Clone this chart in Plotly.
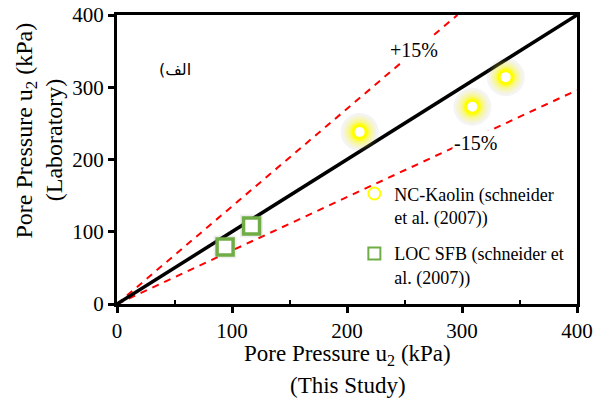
import plotly.graph_objects as go

# Measured pore pressures (kPa): this study (x) vs laboratory (y)
kaolin_x = [211, 309, 338]
kaolin_y = [238, 273, 314]
sfb_x = [94, 117]
sfb_y = [79, 108]

# Reference lines: 1:1 and the +/- bounds
line_x = [0, 400]
line_y = [0, 400]
upper_x = [0, 296]
upper_y = [0, 400]
lower_x = [0, 400]
lower_y = [0, 296]

tick_vals = [0, 100, 200, 300, 400]

SERIF = "Liberation Serif"

fig = go.Figure()

# bound lines
fig.add_trace(go.Scatter(x=upper_x, y=upper_y, mode="lines", showlegend=False,
                         line=dict(color="#ff0000", width=2, dash="7px,6px"), hoverinfo="skip"))
fig.add_trace(go.Scatter(x=lower_x, y=lower_y, mode="lines", showlegend=False,
                         line=dict(color="#ff0000", width=2, dash="7px,6px"), hoverinfo="skip"))
# 1:1 line
fig.add_trace(go.Scatter(x=line_x, y=line_y, mode="lines", showlegend=False,
                         line=dict(color="black", width=3.5), hoverinfo="skip"))

# soft glow around the kaolin points
for size, col in [(38, "rgba(150,150,150,0.10)"), (33, "rgba(255,255,0,0.12)"),
                  (28, "rgba(255,255,0,0.17)"), (23, "rgba(255,255,0,0.27)"),
                  (19, "rgba(255,255,0,0.45)")]:
    fig.add_trace(go.Scatter(x=kaolin_x, y=kaolin_y, mode="markers", showlegend=False,
                             marker=dict(size=size, color=col, line=dict(width=0)),
                             hoverinfo="skip"))

fig.add_trace(go.Scatter(x=kaolin_x, y=kaolin_y, mode="markers", legendgroup="kaolin",
                         name="NC-Kaolin (schneider<br>et al. (2007))",
                         marker=dict(symbol="circle", size=13, color="white",
                                     line=dict(color="#ffff00", width=3))))

# faint shadow under the SFB squares
fig.add_trace(go.Scatter(x=sfb_x, y=sfb_y, mode="markers", showlegend=False,
                         marker=dict(symbol="square", size=23, color="rgba(120,120,120,0.12)",
                                     line=dict(width=0)), hoverinfo="skip"))
fig.add_trace(go.Scatter(x=sfb_x, y=sfb_y, mode="markers", legendgroup="sfb",
                         name="LOC SFB (schneider et<br>al. (2007))",
                         marker=dict(symbol="square", size=16, color="white",
                                     line=dict(color="#70ad47", width=3.5))))

axis_common = dict(range=[0, 400], tickvals=tick_vals, showgrid=False, zeroline=False,
                   showline=True, linecolor="black", linewidth=3, mirror=True,
                   ticks="outside", ticklen=6, tickwidth=3, tickcolor="black",
                   automargin=False,
                   tickfont=dict(family=SERIF, size=21, color="black"))

fig.update_xaxes(**axis_common,
                 minor=dict(tickvals=[50, 150, 250, 350], ticks="inside", ticklen=4,
                            tickwidth=2, tickcolor="black"))
fig.update_yaxes(**axis_common)

annotations = [
    dict(text="Pore Pressure u<sub>2</sub> (kPa)", x=0.502, y=-0.175, xref="paper", yref="paper",
         showarrow=False, font=dict(family=SERIF, size=23, color="black"), yanchor="middle"),
    dict(text="(This Study)", x=0.502, y=-0.282, xref="paper", yref="paper",
         showarrow=False, font=dict(family=SERIF, size=23, color="black"), yanchor="middle"),
    dict(text="Pore Pressure u<sub>2</sub> (kPa)", x=-0.198, y=0.60, xref="paper", yref="paper",
         textangle=-90, showarrow=False, font=dict(family=SERIF, size=24, color="black"),
         xanchor="center", yanchor="middle"),
    dict(text="(Laboratory)", x=-0.137, y=0.57, xref="paper", yref="paper",
         textangle=-90, showarrow=False, font=dict(family=SERIF, size=24, color="black"),
         xanchor="center", yanchor="middle"),
    dict(text="+15%", x=258, y=352, xref="x", yref="y", showarrow=False,
         font=dict(family=SERIF, size=20, color="black"), bgcolor="white"),
    dict(text="-15%", x=312, y=223, xref="x", yref="y", showarrow=False,
         font=dict(family=SERIF, size=20, color="black"), bgcolor="white"),
    dict(text="\u200e(الف", x=50, y=324, xref="x", yref="y", showarrow=False,
         font=dict(family="DejaVu Sans", size=16, color="black")),
]

fig.update_layout(
    width=603, height=398,
    margin=dict(l=117, r=26, t=15, b=94),
    paper_bgcolor="white", plot_bgcolor="white",
    font=dict(family=SERIF, color="black"),
    showlegend=True,
    legend=dict(x=0.516, y=0.445, xanchor="left", yanchor="top", bgcolor="rgba(0,0,0,0)",
                font=dict(family=SERIF, size=18, color="black"), tracegroupgap=10,
                valign="top", itemsizing="constant"),
    annotations=annotations,
)

fig.write_html("out.html")
